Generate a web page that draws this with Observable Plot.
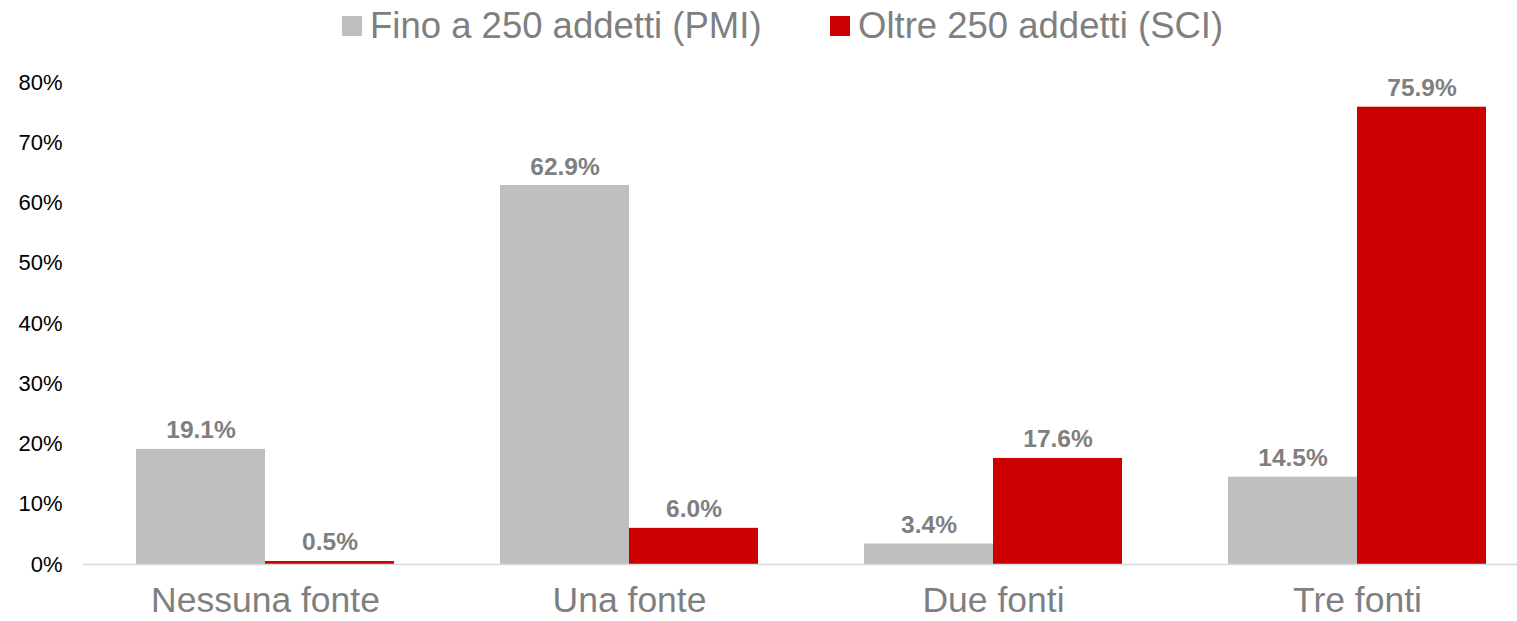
<!DOCTYPE html>
<html>
<head>
<meta charset="utf-8">
<script src="https://cdn.jsdelivr.net/npm/d3@7"></script>
<script src="https://cdn.jsdelivr.net/npm/@observablehq/plot@0.6"></script>
<style>
  html, body { margin: 0; padding: 0; background: #fff; overflow: hidden; }
  body { width: 1517px; height: 621px; font-family: "Liberation Sans", Arial, sans-serif; }
  #legend { height: 62px; position: relative; }
  .item { position: absolute; top: 4px; display: flex; align-items: center; font-size: 36.5px; color: #7f7f7f; line-height: 44px; white-space: nowrap; }
  .sw { width: 20px; height: 20px; margin-right: 8px; }
</style>
</head>
<body>
<div id="legend"></div>
<div id="chart"></div>
<script>
const categories = ["Nessuna fonte", "Una fonte", "Due fonti", "Tre fonti"];
const seriesNames = ["Fino a 250 addetti (PMI)", "Oltre 250 addetti (SCI)"];
const pmi = [19.1, 62.9, 3.4, 14.5];
const sci = [0.5, 6.0, 17.6, 75.9];
const yTicks = [0, 10, 20, 30, 40, 50, 60, 70, 80];
const colors = ["#bfbfbf", "#cc0000"];

const legend = document.getElementById("legend");
const legendX = [342, 830];
seriesNames.forEach((n, i) => {
  const d = document.createElement("div");
  d.className = "item";
  d.style.left = legendX[i] + "px";
  d.innerHTML = `<span class="sw" style="background:${colors[i]}"></span><span>${n}</span>`;
  legend.appendChild(d);
});

const pmiData = categories.map((c, i) => ({cat: c, series: seriesNames[0], value: pmi[i]}));
const sciData = categories.map((c, i) => ({cat: c, series: seriesNames[1], value: sci[i]}));

// band width = 364 * (1 - 0.291) ≈ 258; each bar takes half
const half = 129;
const fmt = d => d.value.toFixed(1) + "%";
const labelStyle = {lineAnchor: "bottom", dy: -11, fill: "#7f7f7f", fontWeight: "bold", fontSize: 24.5};

const chart = Plot.plot({
  width: 1517,
  height: 559,
  marginTop: 20,
  marginBottom: 57,
  marginLeft: 83,
  marginRight: 0,
  style: {fontFamily: "Liberation Sans, Arial, sans-serif", background: "#fff", overflow: "hidden"},
  x: {domain: categories, range: [83, 1539], paddingInner: 0.291, paddingOuter: 0.1455, label: null},
  y: {domain: [0, 80], label: null},
  color: {domain: seriesNames, range: colors},
  marks: [
    Plot.barY(pmiData, {x: "cat", y: "value", fill: "series", insetRight: half}),
    Plot.barY(sciData, {x: "cat", y: "value", fill: "series", insetLeft: half}),
    Plot.text(pmiData, {x: "cat", y: "value", text: fmt, dx: -half / 2, ...labelStyle}),
    Plot.text(sciData, {x: "cat", y: "value", text: fmt, dx: half / 2, ...labelStyle}),
    Plot.ruleY([0], {stroke: "#d9d9d9", strokeWidth: 1.5}),
    Plot.axisY({ticks: yTicks, tickFormat: d => d + "%", tickSize: 0, tickPadding: 21, fontSize: 22, fill: "#000", label: null}),
    Plot.axisX({tickSize: 0, tickPadding: 22, fontSize: 35.5, fill: "#7f7f7f", label: null})
  ]
});
document.getElementById("chart").appendChild(chart);
</script>
</body>
</html>
